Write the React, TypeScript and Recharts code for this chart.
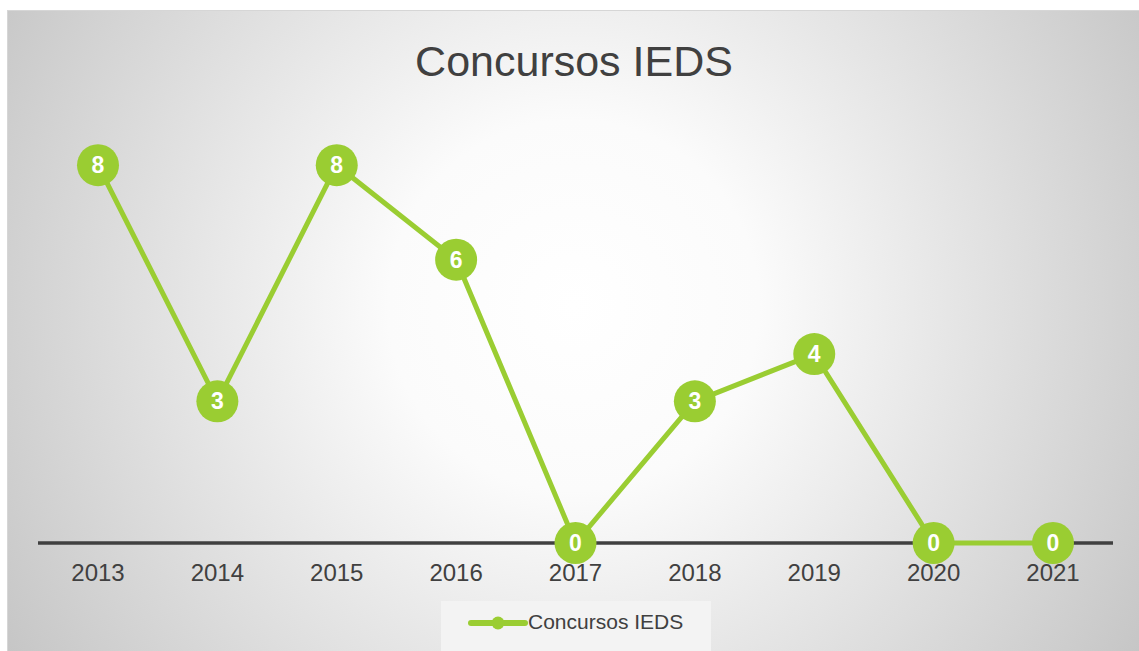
import { LineChart, Line, XAxis, YAxis, Legend, LabelList } from "recharts";

const years = ["2013", "2014", "2015", "2016", "2017", "2018", "2019", "2020", "2021"];
const concursos = [8, 3, 8, 6, 0, 3, 4, 0, 0];

const GREEN = "#9ACD32";
const TEXT = "#404040";
const FONT = "'Liberation Sans', Arial, sans-serif";

const data = years.map((year, i) => ({ year, value: concursos[i] }));

function LegendBox() {
  return (
    <div
      style={{
        width: 270,
        height: 50,
        background: "#f3f3f3",
        position: "relative",
        fontFamily: FONT,
      }}
    >
      <svg width={60} height={20} style={{ position: "absolute", left: 27, top: 12 }}>
        <line x1={3} y1={10} x2={57} y2={10} stroke={GREEN} strokeWidth={6} strokeLinecap="round" />
        <circle cx={30} cy={10} r={6.5} fill={GREEN} />
      </svg>
      <span
        style={{
          position: "absolute",
          left: 87,
          top: 9,
          fontSize: 21,
          lineHeight: "24px",
          color: TEXT,
          whiteSpace: "nowrap",
        }}
      >
        Concursos IEDS
      </span>
    </div>
  );
}

export default function App() {
  return (
    <div
      style={{
        position: "absolute",
        left: 7,
        top: 10,
        width: 1132,
        height: 641,
        background:
          "radial-gradient(circle farthest-corner at 50% 46%, #ffffff 0%, #fbfbfb 28%, #c6c6c6 100%)",
        borderTop: "1px solid #d6d6d6",
        borderLeft: "1px solid #d6d6d6",
        boxSizing: "border-box",
        overflow: "hidden",
      }}
    >
      <div
        style={{
          position: "absolute",
          top: 29,
          left: 0,
          width: 1132,
          textAlign: "center",
          fontFamily: FONT,
          fontSize: 43,
          lineHeight: 1,
          color: TEXT,
        }}
      >
        Concursos IEDS
      </div>
      <LineChart
        width={1131}
        height={640}
        data={data}
        margin={{ top: 107, right: 26, left: 30, bottom: 0 }}
      >
        <XAxis
          dataKey="year"
          padding={{ left: 60, right: 60 }}
          axisLine={{ stroke: TEXT, strokeWidth: 3.5 }}
          tickLine={false}
          tickSize={0}
          tickMargin={21}
          tick={{ fill: TEXT, fontSize: 24, fontFamily: FONT }}
          interval={0}
          height={58}
        />
        <YAxis hide domain={[0, 9]} />
        <Legend
          content={() => <LegendBox />}
          wrapperStyle={{ left: 433, top: 590, width: 270, height: 50 }}
        />
        <Line
          dataKey="value"
          name="Concursos IEDS"
          stroke={GREEN}
          strokeWidth={5}
          dot={{ r: 21, fill: GREEN, stroke: "none", strokeWidth: 0 }}
          activeDot={false}
          isAnimationActive={false}
          zIndex={600}
        >
          <LabelList
            dataKey="value"
            position="center"
            fill="#ffffff"
            fontSize={23}
            fontWeight="bold"
            fontFamily={FONT}
          />
        </Line>
      </LineChart>
    </div>
  );
}
